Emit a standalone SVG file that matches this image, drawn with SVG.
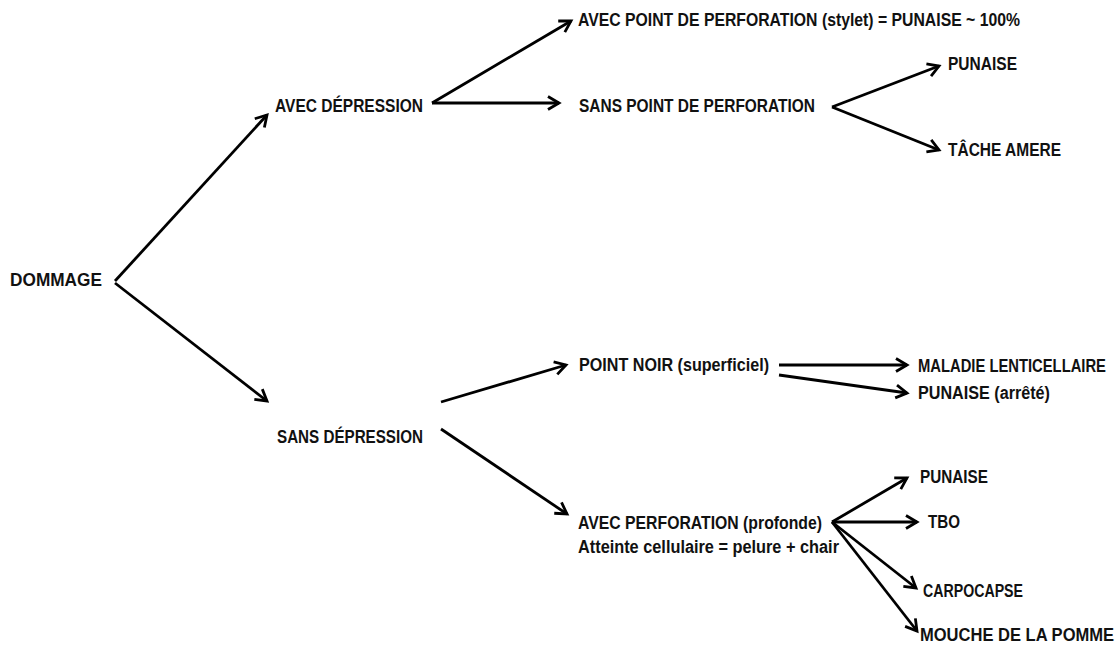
<svg xmlns="http://www.w3.org/2000/svg" width="1117" height="645" viewBox="0 0 1117 645">
<style>
text{font-family:"Liberation Sans",Arial,sans-serif;font-weight:bold;font-size:17.5px;fill:#111;}
.c line{stroke:#000;stroke-width:2.8;marker-end:url(#ah);}
</style>
<defs>
<marker id="ah" markerUnits="userSpaceOnUse" markerWidth="16" markerHeight="16" refX="12" refY="7" orient="auto" overflow="visible">
<path d="M1,0.5 L12,7 L1,13.5" fill="none" stroke="#000" stroke-width="2.8" stroke-linejoin="miter"/>
</marker>
</defs>
<rect width="1117" height="645" fill="#fff"/>
<g id="connectors" class="c">
<line x1="115" y1="281" x2="267" y2="115"/>
<line x1="115" y1="283" x2="267" y2="401"/>
<line x1="432" y1="103" x2="571" y2="21"/>
<line x1="432" y1="103" x2="559" y2="103"/>
<line x1="832" y1="107" x2="939" y2="66"/>
<line x1="832" y1="107" x2="939" y2="150"/>
<line x1="441" y1="402" x2="566" y2="365"/>
<line x1="441" y1="429" x2="567" y2="514"/>
<line x1="779" y1="365" x2="907" y2="365"/>
<line x1="779" y1="375" x2="907" y2="393"/>
<line x1="832" y1="522" x2="907" y2="478"/>
<line x1="832" y1="522" x2="917" y2="522"/>
<line x1="832" y1="522" x2="916" y2="588"/>
<line x1="832" y1="522" x2="917" y2="631"/>
</g>
<g id="n-dommage"><text x="10" y="286" textLength="92" lengthAdjust="spacingAndGlyphs">DOMMAGE</text></g>
<g id="n-avec-depression"><text x="275" y="112" textLength="148" lengthAdjust="spacingAndGlyphs">AVEC DÉPRESSION</text></g>
<g id="n-sans-depression"><text x="277" y="443" textLength="146" lengthAdjust="spacingAndGlyphs">SANS DÉPRESSION</text></g>
<g id="n-avec-point"><text x="578" y="26" textLength="442" lengthAdjust="spacingAndGlyphs">AVEC POINT DE PERFORATION (stylet) = PUNAISE ~ 100%</text></g>
<g id="n-sans-point"><text x="579" y="112" textLength="236" lengthAdjust="spacingAndGlyphs">SANS POINT DE PERFORATION</text></g>
<g id="n-punaise1"><text x="948" y="70" textLength="69" lengthAdjust="spacingAndGlyphs">PUNAISE</text></g>
<g id="n-tache"><text x="948" y="156" textLength="113" lengthAdjust="spacingAndGlyphs">TÂCHE AMERE</text></g>
<g id="n-point-noir"><text x="579" y="371" textLength="190" lengthAdjust="spacingAndGlyphs">POINT NOIR (superficiel)</text></g>
<g id="n-maladie"><text transform="translate(918,372) scale(0.845,1)" x="0" y="0">MALADIE LENTICELLAIRE</text></g>
<g id="n-punaise-arrete"><text x="918" y="399" textLength="132" lengthAdjust="spacingAndGlyphs">PUNAISE (arrêté)</text></g>
<g id="n-avec-perforation">
<text x="578" y="529" textLength="244" lengthAdjust="spacingAndGlyphs">AVEC PERFORATION (profonde)</text>
<text x="578" y="553" textLength="261" lengthAdjust="spacingAndGlyphs">Atteinte cellulaire = pelure + chair</text>
</g>
<g id="n-punaise2"><text x="920" y="483" textLength="68" lengthAdjust="spacingAndGlyphs">PUNAISE</text></g>
<g id="n-tbo"><text x="928" y="528" textLength="32" lengthAdjust="spacingAndGlyphs">TBO</text></g>
<g id="n-carpocapse"><text x="923" y="597" textLength="100" lengthAdjust="spacingAndGlyphs">CARPOCAPSE</text></g>
<g id="n-mouche"><text transform="translate(920,641) scale(0.945,1)" x="0" y="0">MOUCHE DE LA POMME</text></g>
</svg>
